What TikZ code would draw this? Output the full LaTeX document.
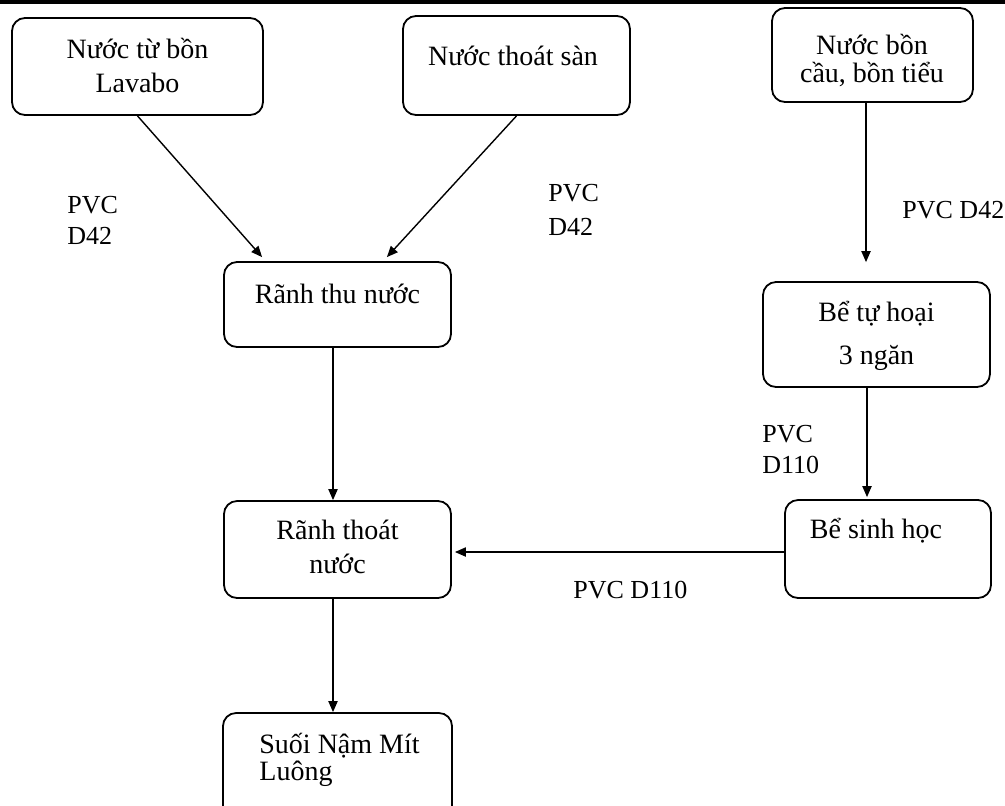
\documentclass[tikz,border=0pt]{standalone}
\usepackage{fontspec}
\setmainfont{Liberation Serif}
\usepackage{tikz}
\usetikzlibrary{arrows.meta, positioning, calc}

% hai dòng chữ, khoảng cách dòng cố định
\newcommand{\giua}[3]{\vtop{\baselineskip=#1\lineskiplimit=-100pt\halign{\hfil##\hfil\cr#2\cr#3\cr}}}
\newcommand{\trai}[3]{\vtop{\baselineskip=#1\lineskiplimit=-100pt\halign{##\hfil\cr#2\cr#3\cr}}}

\begin{document}
\begin{tikzpicture}[x=0.5pt, y=-0.5pt,
    box/.style={draw, line width=0.9pt, rounded corners=6.5pt},
    sz/.style 2 args={minimum width=#1*0.5pt, minimum height=#2*0.5pt, inner sep=0pt},
    txt/.style={font=\fontsize{14}{17}\selectfont, inner sep=0pt, anchor=base},
    lbl/.style={font=\fontsize{13}{15.5}\selectfont, inner sep=0pt, anchor=base west},
    arr/.style={line width=0.7pt, -{Triangle[length=5.5pt, width=4.6pt]}}]
    \useasboundingbox (0,0) rectangle (1005,805);
    \clip (0,0) rectangle (1005,805);

    % đường kẻ trên cùng
    \fill (0,0) rectangle (1005,4);

    % các khối
    \node[box, sz={251}{97}] (lavabo) at (137.5,66.5) {};
    \node[box, sz={227}{99}] (san) at (516.5,65.5) {};
    \node[box, sz={201}{94}] (cau) at (872.5,55) {};
    \node[box, sz={227}{85}] (thu) at (337.5,304.5) {};
    \node[box, sz={227}{105}] (hoai) at (876.5,334.5) {};
    \node[box, sz={227}{97}] (thoat) at (337.5,549.5) {};
    \node[box, sz={206}{98}] (sinh) at (888,549) {};
    \node[box, sz={229}{130}] (suoi) at (337.5,778) {};

    % chữ trong khối
    \node[txt] (lavaboT) at (137.5,58) {\giua{17pt}{Nước từ bồn}{Lavabo}};
    \node[txt] (sanT) at (513,65) {Nước thoát sàn};
    \node[txt] (cauT) at (872,54) {\giua{14pt}{Nước bồn}{cầu, bồn tiểu}};
    \node[txt] (thuT) at (337.5,303) {Rãnh thu nước};
    \node[txt] (hoaiT) at (876.5,321) {\giua{21.5pt}{Bể tự hoại}{3 ngăn}};
    \node[txt] (thoatT) at (337.5,539) {\giua{17pt}{Rãnh thoát}{nước}};
    \node[txt] (sinhT) at (876,538) {Bể sinh học};
    \node[txt, anchor=base west] (suoiT) at (259,753) {\trai{13.5pt}{Suối Nậm Mít}{Luông}};

    % nhãn ống
    \node[lbl] (pvcA) at (67,213) {\trai{15.5pt}{PVC}{D42}};
    \node[lbl] (pvcB) at (548,201) {\trai{17pt}{PVC}{D42}};
    \node[lbl] (pvcC) at (902,218) {PVC D42};
    \node[lbl] (pvcD) at (762,442) {\trai{15.5pt}{PVC}{D110}};
    \node[lbl] (pvcE) at (573,598) {PVC D110};

    % mũi tên
    \draw[arr] (lavabo.south) -- ($(thu.north west)+(39,-4)$);
    \draw[arr] (san.south) -- ($(thu.north east)+(-65,-4)$);
    \draw[arr] ($(cau.south)+(-6.5,0)$) -- ($(hoai.north)+(-10.5,-19)$);
    \draw[arr] ($(hoai.south)+(-9.5,0)$) -- ($(sinh.north)+(-21,-2)$);
    \draw[arr] ($(thu.south)+(-4.5,0)$) -- ($(thoat.north)+(-4.5,0)$);
    \draw[arr] ($(sinh.west)+(0,3)$) -- ($(thoat.east)+(3,2.5)$);
    \draw[arr] ($(thoat.south)+(-4.5,0)$) -- ($(suoi.north)+(-4.5,0)$);
\end{tikzpicture}
\end{document}
